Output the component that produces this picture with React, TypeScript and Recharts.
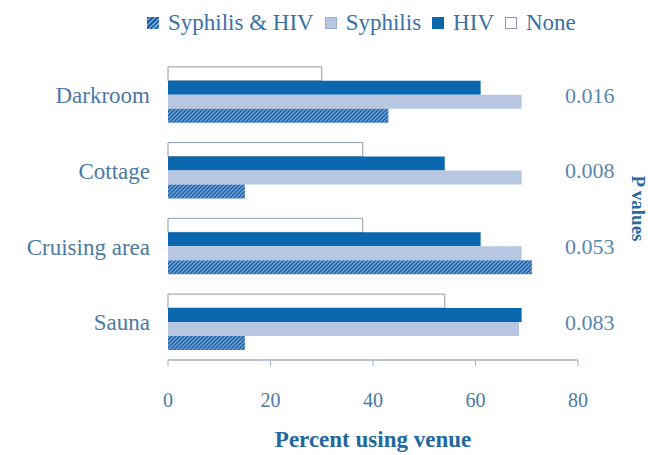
import React from 'react';
import { BarChart, Bar, XAxis, YAxis, Legend } from 'recharts';

const venues = ['Darkroom', 'Cottage', 'Cruising area', 'Sauna'];
const noneValues = [30, 38, 38, 54];
const hivValues = [61, 54, 61, 69];
const syphilisValues = [69, 69, 69, 68.5];
const bothValues = [43, 15, 71, 15];
const pValues = ['0.016', '0.008', '0.053', '0.083'];
const xTicks = [0, 20, 40, 60, 80];
const bandTicks = [0, 1, 2, 3, 4];

const legendItems = [
  { label: 'Syphilis & HIV', key: 'both' },
  { label: 'Syphilis', key: 'syphilis' },
  { label: 'HIV', key: 'hiv' },
  { label: 'None', key: 'none' },
];

const data = venues.map((v, i) => ({
  venue: v,
  none: noneValues[i],
  hiv: hivValues[i],
  syphilis: syphilisValues[i],
  both: bothValues[i],
  p: pValues[i],
}));

const FONT = '"Liberation Serif", "Times New Roman", serif';
const AXIS = '#9fb2c6';
const HIV = '#0a66ad';
const SYPH = '#b7c7e2';
const NONE_STROKE = '#8d9bab';

const swatchStyle = (key: string): React.CSSProperties => {
  const base: React.CSSProperties = { width: 12, height: 12, marginRight: 9, boxSizing: 'border-box', flex: 'none' };
  if (key === 'both') return { ...base, background: 'repeating-linear-gradient(135deg, #1d5fa3 0 1.5px, #6ea3d8 1.5px 3.5px)' };
  if (key === 'syphilis') return { ...base, background: SYPH, border: '1px solid #9aaecb' };
  if (key === 'hiv') return { ...base, background: HIV };
  return { ...base, background: '#fff', border: `1px solid ${NONE_STROKE}` };
};

const renderLegend = () => (
  <div style={{ display: 'flex', alignItems: 'center', height: 30, fontFamily: FONT, fontSize: 23, color: '#3a70a8', whiteSpace: 'nowrap' }}>
    {legendItems.map((it) => (
      <div key={it.key} style={{ display: 'flex', alignItems: 'center', marginRight: 11 }}>
        <div style={swatchStyle(it.key)} />
        <span>{it.label}</span>
      </div>
    ))}
  </div>
);

const renderPTick = (props: any) => {
  const { x, y, payload } = props;
  const idx = venues.indexOf(payload.value);
  return (
    <text x={x - 15} y={y} dy="0.35em" textAnchor="start" fill="#5a86b0" fontFamily={FONT} fontSize={22}>
      {pValues[idx]}
    </text>
  );
};

const renderPLabel = (props: any) => {
  const vb = props.viewBox || {};
  const x = vb.x + vb.width - 16;
  const y = vb.y + vb.height / 2;
  return (
    <text x={x} y={y} transform={`rotate(90 ${x} ${y})`} textAnchor="middle" fill="#2a6aa0" fontFamily={FONT} fontWeight="bold" fontSize={19}>
      P values
    </text>
  );
};

const renderXLabel = (props: any) => {
  const vb = props.viewBox || {};
  const x = vb.x + vb.width / 2;
  const y = vb.y + vb.height - 8;
  return (
    <text x={x} y={y} textAnchor="middle" fill="#2268a0" fontFamily={FONT} fontWeight="bold" fontSize={23}>
      Percent using venue
    </text>
  );
};

export default function App() {
  return (
    <div style={{ position: 'absolute', left: 0, top: 0, width: 648, height: 455, background: '#fff' }}>
      <BarChart
        width={648}
        height={455}
        data={data}
        layout="vertical"
        margin={{ top: 27, right: 0, bottom: 0, left: 0 }}
        barCategoryGap="13%"
        barGap={0}
      >
        <defs>
          <pattern id="hatch" patternUnits="userSpaceOnUse" width="4" height="4">
            <rect width="4" height="4" fill="#6ea3d8" />
            <path d="M-1,1 l2,-2 M0,4 l4,-4 M3,5 l2,-2" stroke="#1d5fa3" strokeWidth="1.4" />
          </pattern>
        </defs>
        <Legend verticalAlign="top" content={renderLegend} wrapperStyle={{ top: 8, left: 147, width: 500, height: 30 }} />
        <XAxis
          type="number"
          domain={[0, 80]}
          ticks={xTicks}
          height={95}
          axisLine={{ stroke: AXIS, strokeWidth: 1.5 }}
          tickLine={{ stroke: AXIS }}
          tickSize={6}
          tickMargin={27}
          tick={{ fill: '#4a7aa5', fontSize: 20, fontFamily: FONT }}
          label={{ content: renderXLabel }}
        />
        <YAxis
          yAxisId="band"
          type="number"
          domain={[0, 4]}
          ticks={bandTicks}
          width={0}
          tick={false}
          tickSize={5}
          axisLine={{ stroke: AXIS, strokeWidth: 1.5 }}
          tickLine={{ stroke: AXIS }}
        />
        <YAxis
          yAxisId="cat"
          type="category"
          dataKey="venue"
          width={168}
          axisLine={false}
          tickLine={false}
          tickSize={0}
          tickMargin={18}
          tick={{ fill: '#4a7aa5', fontSize: 23, fontFamily: FONT }}
        />
        <YAxis
          yAxisId="p"
          orientation="right"
          type="category"
          dataKey="venue"
          width={70}
          axisLine={false}
          tickLine={false}
          tickSize={0}
          tick={renderPTick}
          label={{ content: renderPLabel }}
        />
        <Bar dataKey="none" yAxisId="cat" fill="#ffffff" stroke={NONE_STROKE} strokeWidth={1} isAnimationActive={false} />
        <Bar dataKey="hiv" yAxisId="cat" fill={HIV} isAnimationActive={false} />
        <Bar dataKey="syphilis" yAxisId="cat" fill={SYPH} isAnimationActive={false} />
        <Bar dataKey="both" yAxisId="cat" fill="url(#hatch)" isAnimationActive={false} />
      </BarChart>
    </div>
  );
}
